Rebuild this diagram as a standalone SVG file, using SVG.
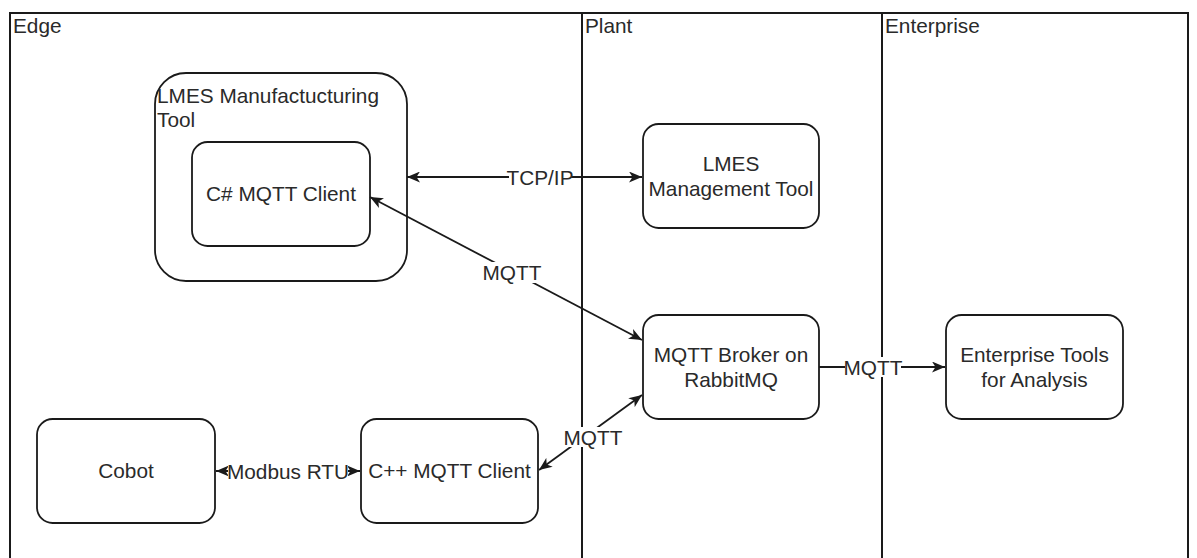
<svg xmlns="http://www.w3.org/2000/svg" width="1197" height="558" viewBox="0 0 1197 558">
  <style>
    text { font-family: "Liberation Sans", Arial, sans-serif; font-size: 20.8px; fill: #2a2a2a; }
    .mid { text-anchor: middle; }
    .lane { fill: none; stroke: #1a1a1a; stroke-width: 2; }
    .node { fill: #fff; stroke: #1a1a1a; stroke-width: 1.8; }
    .edge { fill: none; stroke: #1a1a1a; stroke-width: 1.8; }
    .lblbg { fill: #fff; }
  </style>
  <defs>
    <marker id="arrow" viewBox="0 0 13 11" refX="13" refY="5.5" markerWidth="13" markerHeight="11" markerUnits="userSpaceOnUse" orient="auto-start-reverse">
      <path d="M0,0 L13,5.5 L0,11 L3.5,5.5 Z" fill="#1a1a1a"/>
    </marker>
  </defs>
  <rect width="1197" height="558" fill="#fff"/>

  <!-- swimlanes -->
  <g id="lanes">
    <path class="lane" d="M10,575 V13 H1188 V575"/>
    <line class="lane" x1="582" y1="13" x2="582" y2="575"/>
    <line class="lane" x1="882" y1="13" x2="882" y2="575"/>
    <text x="13" y="33">Edge</text>
    <text x="585" y="33">Plant</text>
    <text x="885" y="33">Enterprise</text>
  </g>

  <!-- nodes -->
  <g id="lmes-manufacturing-tool">
    <rect class="node" x="155" y="73" width="252" height="208" rx="31" ry="31"/>
    <text x="157" y="103">LMES Manufactucturing</text>
    <text x="157" y="127">Tool</text>
  </g>
  <g id="csharp-mqtt-client">
    <rect class="node" x="192" y="142" width="178" height="104" rx="15.6" ry="15.6"/>
    <text class="mid" x="281" y="201">C# MQTT Client</text>
  </g>
  <g id="lmes-management-tool">
    <rect class="node" x="643" y="124" width="176" height="104" rx="15.6" ry="15.6"/>
    <text class="mid" x="731" y="171">LMES</text>
    <text class="mid" x="731" y="196">Management Tool</text>
  </g>
  <g id="mqtt-broker">
    <rect class="node" x="643" y="315" width="176" height="104" rx="15.6" ry="15.6"/>
    <text class="mid" x="731" y="362">MQTT Broker on</text>
    <text class="mid" x="731" y="387">RabbitMQ</text>
  </g>
  <g id="enterprise-tools">
    <rect class="node" x="946" y="315" width="177" height="104" rx="15.6" ry="15.6"/>
    <text class="mid" x="1034.5" y="362">Enterprise Tools</text>
    <text class="mid" x="1034.5" y="387">for Analysis</text>
  </g>
  <g id="cobot">
    <rect class="node" x="37" y="419" width="178" height="104" rx="15.6" ry="15.6"/>
    <text class="mid" x="126" y="478">Cobot</text>
  </g>
  <g id="cpp-mqtt-client">
    <rect class="node" x="361" y="419" width="177" height="104" rx="15.6" ry="15.6"/>
    <text class="mid" x="449.5" y="478">C++ MQTT Client</text>
  </g>

  <!-- connectors -->
  <g id="connectors">
    <line class="edge" x1="407" y1="177" x2="642" y2="177" marker-start="url(#arrow)" marker-end="url(#arrow)"/>
    <rect class="lblbg" x="509" y="167" width="62" height="20"/>
    <text class="mid" x="540" y="184.5">TCP/IP</text>

    <line class="edge" x1="370" y1="197" x2="642" y2="340" marker-start="url(#arrow)" marker-end="url(#arrow)"/>
    <rect class="lblbg" x="484" y="262" width="56" height="21"/>
    <text class="mid" x="512" y="279.5">MQTT</text>

    <line class="edge" x1="819" y1="367" x2="945" y2="367" marker-end="url(#arrow)"/>
    <rect class="lblbg" x="845" y="357" width="56" height="20"/>
    <text class="mid" x="873" y="374.5">MQTT</text>

    <line class="edge" x1="539" y1="470" x2="642" y2="395" marker-start="url(#arrow)" marker-end="url(#arrow)"/>
    <rect class="lblbg" x="565" y="427" width="56" height="20"/>
    <text class="mid" x="593" y="444.5">MQTT</text>

    <line class="edge" x1="216" y1="471" x2="360" y2="471" marker-start="url(#arrow)" marker-end="url(#arrow)"/>
    <rect class="lblbg" x="228" y="461" width="120" height="20"/>
    <text class="mid" x="288" y="478.5">Modbus RTU</text>
  </g>
</svg>
